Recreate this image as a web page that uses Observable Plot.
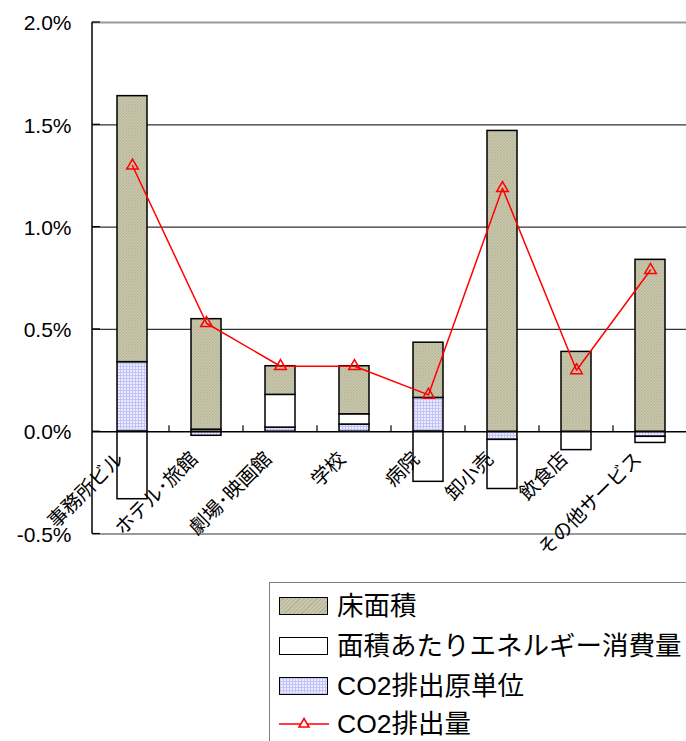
<!DOCTYPE html>
<html>
<head>
<meta charset="utf-8">
<script src="https://cdn.jsdelivr.net/npm/d3@7"></script>
<script src="https://cdn.jsdelivr.net/npm/@observablehq/plot@0.6"></script>
<style>
  html, body { margin: 0; padding: 0; background: #fff; overflow: hidden; }
  #wrap { position: relative; width: 686px; height: 741px; }
  #legend {
    position: absolute; left: 269px; top: 582px; width: 430px; height: 170px;
    border: 1.5px solid #808080; background: #fff; box-sizing: border-box;
    font-family: "Liberation Sans", "Noto Sans CJK JP", sans-serif; font-size: 26.5px; color: #000;
  }
  .row { position: absolute; left: 0; height: 40px; width: 100%; }
  .sw { position: absolute; left: 9px; width: 47px; height: 16px; border: 1.5px solid #000; box-sizing: content-box; }
  .lab { position: absolute; left: 67px; top: 0; line-height: 40px; white-space: nowrap; }
</style>
</head>
<body>
<div id="wrap"><div id="chart"></div><div id="legend"></div></div>
<script>
const categories = ["事務所ビル", "ホテル･旅館", "劇場･映画館", "学校", "病院", "卸小売", "飲食店", "その他サービス"];
const seriesNames = ["CO2排出原単位", "面積あたりエネルギー消費量", "床面積"];
const co2Intensity   = [0.34, -0.02, 0.02, 0.035, 0.165, -0.04, 0.0, -0.025];
const energyPerArea  = [-0.33, 0.01, 0.16, 0.05, -0.245, -0.24, -0.09, -0.03];
const floorArea      = [1.30, 0.54, 0.14, 0.235, 0.27, 1.47, 0.39, 0.84];
const co2Emission    = [1.30, 0.53, 0.32, 0.32, 0.18, 1.19, 0.30, 0.79];
const yTicks = [-0.5, 0, 0.5, 1.0, 1.5, 2.0];

const seriesValues = [co2Intensity, energyPerArea, floorArea];
const stacked = [];
seriesValues.forEach((vals, s) => vals.forEach((v, i) => stacked.push({cat: categories[i], series: seriesNames[s], value: v})));
const lineData = categories.map((c, i) => ({cat: c, value: co2Emission[i]}));

const W = 686, H = 580;
const axisMark = (index, scales, values, dims) => {
  const {x, y} = scales;
  const bw = typeof x.bandwidth === "function" ? x.bandwidth() : x.bandwidth;
  const g = d3.create("svg:g");
  const left = dims.marginLeft;
  g.append("line").attr("x1", left).attr("x2", left)
    .attr("y1", y(yTicks[0])).attr("y2", y(yTicks[yTicks.length - 1]))
    .attr("stroke", "#000").attr("stroke-width", 1.5);
  for (const t of yTicks) {
    g.append("line").attr("x1", left).attr("x2", left + 8)
      .attr("y1", y(t)).attr("y2", y(t)).attr("stroke", "#000").attr("stroke-width", 1.2);
  }
  for (let i = 0; i < categories.length - 1; i++) {
    const bx = (x(categories[i]) + bw + x(categories[i + 1])) / 2;
    g.append("line").attr("x1", bx).attr("x2", bx)
      .attr("y1", y(0)).attr("y2", y(0) - 6).attr("stroke", "#000").attr("stroke-width", 1.2);
  }
  return g.node();
};

const chart = Plot.plot({
  width: W, height: H,
  marginLeft: 92, marginRight: -3, marginTop: 22, marginBottom: H - 533.5,
  style: {fontFamily: "Liberation Sans, Arial, sans-serif", background: "#fff", overflow: "visible"},
  x: {type: "band", domain: categories, paddingInner: 0.6, paddingOuter: 0.3, axis: null},
  y: {domain: [-0.5, 2.0], axis: null},
  color: {type: "ordinal", domain: seriesNames, range: ["url(#pBlue)", "#ffffff", "url(#pGray)"]},
  marks: [
    Plot.ruleY([0.5, 1.0, 1.5], {stroke: "#333", strokeWidth: 1.2}),
    Plot.ruleY([2.0, -0.5], {stroke: "#9a9a9a", strokeWidth: 2}),
    Plot.text(yTicks, {y: d => d, text: d => d.toFixed(1) + "%", frameAnchor: "left", textAnchor: "end", dx: -21, dy: 1,
      fontSize: 21, fontFamily: "Liberation Sans, Arial, sans-serif", fill: "#000"}),
    Plot.barY(stacked, {x: "cat", y: "value", z: "series", fill: "series", stroke: "#000", strokeWidth: 1.5, order: null}),
    Plot.ruleY([0], {stroke: "#000", strokeWidth: 1.5}),
    axisMark,
    Plot.line(lineData, {x: "cat", y: "value", stroke: "#ff0000", strokeWidth: 1.5}),
    Plot.dot(lineData, {x: "cat", y: "value", symbol: "triangle", r: 4.3, stroke: "#ff0000", fill: "none", strokeWidth: 1.5}),
    Plot.text(categories, {x: d => d, y: d => 0, text: d => d, rotate: -45, textAnchor: "end", dx: -12, dy: 24,
      fontSize: 19.5, fontFamily: "Noto Sans CJK JP, sans-serif", fill: "#000"})
  ]
});

d3.select(chart).insert("defs", ":first-child").html(`
  <pattern id="pGray" width="3" height="3" patternUnits="userSpaceOnUse">
    <rect width="3" height="3" fill="#c8c7ab"/>
    <path d="M0,3 L3,0" stroke="#b2b096" stroke-width="0.8"/>
    <path d="M0,0 L3,3" stroke="#bdbca1" stroke-width="0.6"/>
  </pattern>
  <pattern id="pBlue" width="3" height="3" patternUnits="userSpaceOnUse">
    <rect width="3" height="3" fill="#ececff"/>
    <path d="M0,0.5 H3 M0.5,0 V3" stroke="#c2c2f6" stroke-width="1"/>
  </pattern>`);
document.getElementById("chart").appendChild(chart);

const legend = document.getElementById("legend");
const legendItems = [
  {label: "床面積", css: "background: repeating-linear-gradient(135deg, #c8c7ab 0 2px, #b3b196 2px 3px);"},
  {label: "面積あたりエネルギー消費量", css: "background: #fff;"},
  {label: "CO2排出原単位", css: "background-color:#ececff; background-image: linear-gradient(#c2c2f6 1px, transparent 1px), linear-gradient(90deg, #c2c2f6 1px, transparent 1px); background-size: 3px 3px;"},
  {label: "CO2排出量", line: true}
];
const rowTops = [3, 43, 83, 121];
legendItems.forEach((it, i) => {
  const row = document.createElement("div");
  row.className = "row";
  row.style.top = rowTops[i] + "px";
  if (it.line) {
    row.innerHTML = `<svg style="position:absolute;left:9px;top:0" width="50" height="40"><line x1="0" x2="50" y1="20" y2="20" stroke="#ff0000" stroke-width="1.5"/><path d="M25,14.5 L30,23 L20,23 Z" fill="#fff" stroke="#ff0000" stroke-width="1.5"/></svg>`;
  } else {
    row.innerHTML = `<div class="sw" style="top:11px;${it.css}"></div>`;
  }
  const lab = document.createElement("div");
  lab.className = "lab";
  lab.textContent = it.label;
  row.appendChild(lab);
  legend.appendChild(row);
});
</script>
</body>
</html>
